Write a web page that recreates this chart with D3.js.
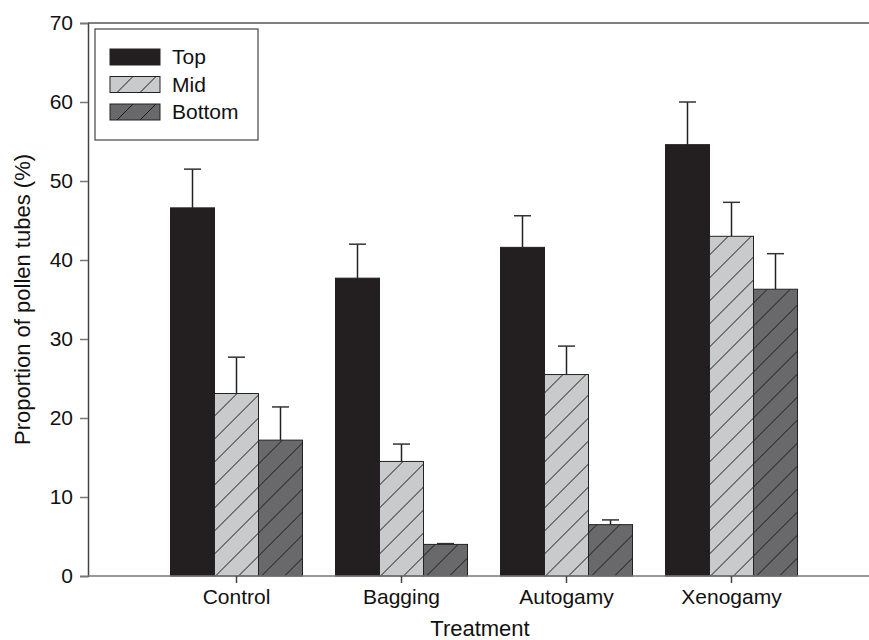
<!DOCTYPE html>
<html>
<head>
<meta charset="utf-8">
<script src="https://cdn.jsdelivr.net/npm/d3@7"></script>
<style>
  body { margin: 0; background: #fff; }
  svg { display: block; font-family: "Liberation Sans", Arial, sans-serif; }
</style>
</head>
<body>
<div id="wrapper"></div>
<script>
// data
const treatments = ["Control", "Bagging", "Autogamy", "Xenogamy"];
const series = ["Top", "Mid", "Bottom"];
const topValues = [46.6, 37.7, 41.6, 54.6];
const topErr = [4.9, 4.3, 4.0, 5.4];
const midValues = [23.1, 14.5, 25.5, 43.0];
const midErr = [4.6, 2.2, 3.6, 4.3];
const bottomValues = [17.2, 4.0, 6.5, 36.3];
const bottomErr = [4.2, 0.1, 0.6, 4.5];
const yTicks = [0, 10, 20, 30, 40, 50, 60, 70];

const dims = { width: 869, height: 640, left: 88, right: 869, top: 23, bottom: 576 };

const svg = d3.select("#wrapper")
  .append("svg")
    .attr("width", dims.width)
    .attr("height", dims.height);

const defs = svg.append("defs");
const hatch = (id, bg) => {
  const p = defs.append("pattern")
    .attr("id", id)
    .attr("patternUnits", "userSpaceOnUse")
    .attr("width", 23)
    .attr("height", 23);
  p.append("rect").attr("width", 23).attr("height", 23).attr("fill", bg);
  p.append("path")
    .attr("d", "M0,23 L23,0 M-5,5 L5,-5 M18,28 L28,18")
    .attr("stroke", "#1a1a1a")
    .attr("stroke-width", 1);
};
hatch("hatchMid", "#c9cacc");
hatch("hatchBottom", "#69696b");

const fills = { Top: "#231f20", Mid: "url(#hatchMid)", Bottom: "url(#hatchBottom)" };

const rows = treatments.map((t, i) => ({
  treatment: t,
  bars: [
    { key: "Top", value: topValues[i], err: topErr[i] },
    { key: "Mid", value: midValues[i], err: midErr[i] },
    { key: "Bottom", value: bottomValues[i], err: bottomErr[i] }
  ]
}));

const x0 = d3.scaleBand()
  .domain(treatments)
  .range([dims.left, 880])
  .paddingInner(0.2)
  .paddingOuter(0.5);

const x1 = d3.scaleBand()
  .domain(series)
  .range([0, x0.bandwidth()]);

const y = d3.scaleLinear()
  .domain([0, 70])
  .range([dims.bottom, dims.top]);

// bars
const groups = svg.append("g")
  .selectAll("g")
  .data(rows)
  .enter()
  .append("g")
    .attr("transform", d => "translate(" + x0(d.treatment) + ",0)");

// error bars (upper only)
groups.selectAll("g.err")
  .data(d => d.bars)
  .enter()
  .append("g")
    .attr("class", "err")
    .each(function(d) {
      const cx = x1(d.key) + x1.bandwidth() / 2;
      const g = d3.select(this);
      g.append("line")
        .attr("x1", cx).attr("x2", cx)
        .attr("y1", y(d.value)).attr("y2", y(d.value + d.err))
        .attr("stroke", "#222").attr("stroke-width", 1.5);
      g.append("line")
        .attr("x1", cx - 8.5).attr("x2", cx + 8.5)
        .attr("y1", y(d.value + d.err)).attr("y2", y(d.value + d.err))
        .attr("stroke", "#333").attr("stroke-width", 1.5);
    });

groups.selectAll("rect")
  .data(d => d.bars)
  .enter()
  .append("rect")
    .attr("x", d => x1(d.key))
    .attr("y", d => y(d.value))
    .attr("width", x1.bandwidth())
    .attr("height", d => y(0) - y(d.value))
    .attr("fill", d => fills[d.key])
    .attr("stroke", d => d.key === "Top" ? "#231f20" : "#222")
    .attr("stroke-width", 1);

// y axis
const yAxis = svg.append("g")
  .attr("transform", "translate(" + dims.left + ",0)")
  .call(d3.axisLeft(y).tickValues(yTicks).tickSize(8).tickPadding(7));
yAxis.select(".domain").attr("stroke", "#444").attr("stroke-width", 1.5);
yAxis.selectAll(".tick line").attr("stroke", "#777").attr("stroke-width", 1.5);
yAxis.selectAll(".tick text")
  .attr("font-size", 21)
  .attr("fill", "#111")
  .attr("font-family", "Liberation Sans, Arial, sans-serif");

// x axis
const xAxis = svg.append("g")
  .attr("transform", "translate(0," + dims.bottom + ")")
  .call(d3.axisBottom(x0).tickSize(7).tickPadding(6).tickSizeOuter(0));
xAxis.select(".domain").attr("d", "M" + dims.left + ",0H" + dims.right).attr("stroke", "#777").attr("stroke-width", 1.5);
xAxis.selectAll(".tick line").attr("stroke", "#444").attr("stroke-width", 1.5);
xAxis.selectAll(".tick text")
  .attr("font-size", 21)
  .attr("fill", "#111")
  .attr("font-family", "Liberation Sans, Arial, sans-serif");

// top frame line
svg.append("line")
  .attr("x1", dims.left).attr("x2", dims.right)
  .attr("y1", y(70)).attr("y2", y(70))
  .attr("stroke", "#555").attr("stroke-width", 1.5);

// axis titles
svg.append("text")
  .attr("x", 480)
  .attr("y", 636)
  .attr("text-anchor", "middle")
  .attr("font-size", 22)
  .attr("fill", "#111")
  .text("Treatment");

svg.append("text")
  .attr("transform", "translate(30," + ((dims.top + dims.bottom) / 2) + ") rotate(-90)")
  .attr("text-anchor", "middle")
  .attr("font-size", 22)
  .attr("fill", "#111")
  .text("Proportion of pollen tubes (%)");

// legend
const legend = svg.append("g");
legend.append("rect")
  .attr("x", 95).attr("y", 29)
  .attr("width", 163).attr("height", 111)
  .attr("fill", "#fff")
  .attr("stroke", "#444")
  .attr("stroke-width", 1.2);
const items = legend.selectAll("g")
  .data(series)
  .enter()
  .append("g")
    .attr("transform", (d, i) => "translate(110," + (49 + i * 27.5) + ")");
items.append("rect")
  .attr("width", 50)
  .attr("height", 16)
  .attr("fill", d => fills[d])
  .attr("stroke", "#222")
  .attr("stroke-width", 1);
items.append("text")
  .attr("x", 62)
  .attr("y", 15)
  .attr("font-size", 21)
  .attr("fill", "#111")
  .text(d => d);
</script>
</body>
</html>
